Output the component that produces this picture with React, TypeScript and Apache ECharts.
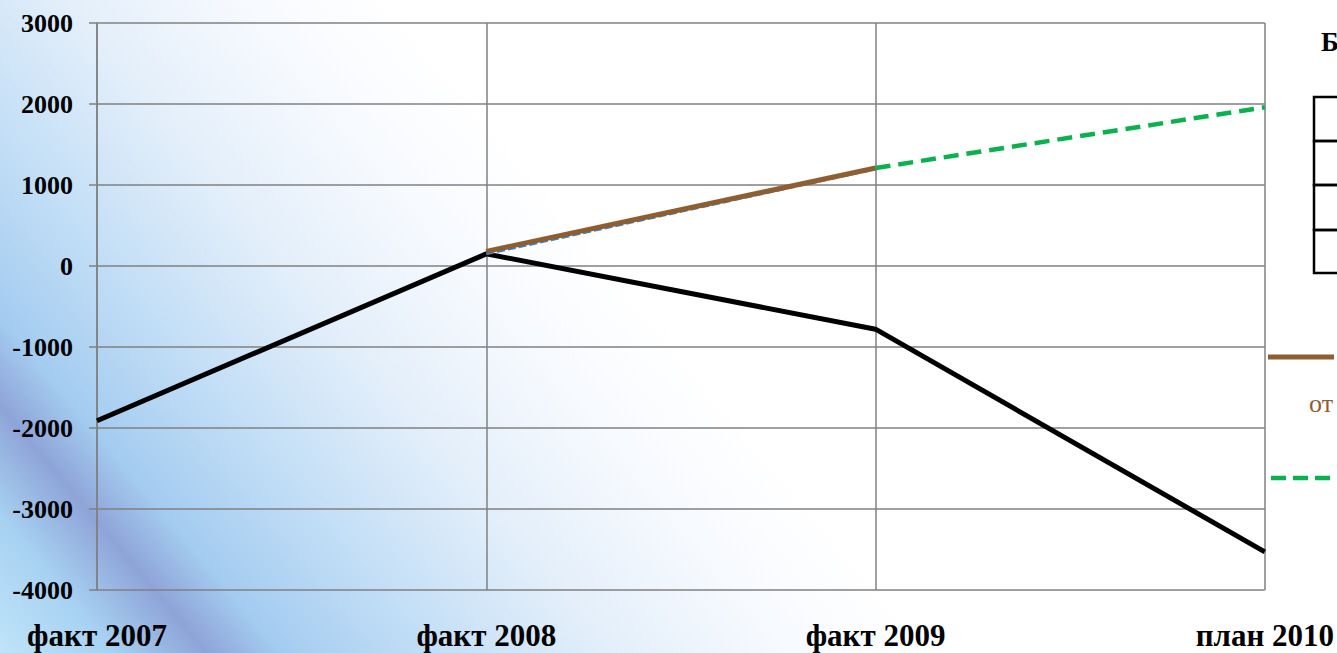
import React, { useEffect, useRef } from "react";
import * as echarts from "echarts";

const categories = ["факт 2007", "факт 2008", "факт 2009", "план 2010"];
const blackSeries = [-1910, 150, -780, -3530];
const brownSeries = [null, 180, 1210, null];
const blueSeries = [null, 150, 1200, null];
const greenSeries = [null, null, 1210, 1960];
const yTicks = { min: -4000, max: 3000, interval: 1000 };

const FONT = "'Liberation Serif', 'Times New Roman', serif";

export default function App() {
  const ref = useRef<HTMLDivElement>(null);
  useEffect(() => {
    if (!ref.current) return;
    const chart = echarts.init(ref.current, null, { renderer: "svg" });
    const tableRows = [97, 141, 185, 230];
    chart.setOption({
      animation: false,
      grid: { left: 97, right: 72, top: 23, bottom: 63, containLabel: false },
      xAxis: {
        type: "category",
        data: categories,
        boundaryGap: false,
        axisLine: { show: false },
        axisTick: { show: false },
        splitLine: { show: true, lineStyle: { color: "#808080", width: 1.5 } },
        axisLabel: {
          margin: 30,
          color: "#000",
          fontFamily: FONT,
          fontWeight: "bold",
          fontSize: 31,
        },
      },
      yAxis: {
        type: "value",
        min: yTicks.min,
        max: yTicks.max,
        interval: yTicks.interval,
        axisLine: { show: true, lineStyle: { color: "#808080", width: 1.5 } },
        axisTick: { show: true, length: 8, lineStyle: { color: "#808080", width: 1.5 } },
        splitLine: { show: true, lineStyle: { color: "#808080", width: 1.5 } },
        axisLabel: {
          margin: 24,
          color: "#000",
          fontFamily: FONT,
          fontWeight: "bold",
          fontSize: 26,
          formatter: (v: number) => String(v),
        },
      },
      series: [
        {
          type: "line",
          data: blackSeries,
          symbol: "none",
          lineStyle: { color: "#000", width: 5 },
          z: 2,
        },
        {
          type: "line",
          data: blueSeries,
          symbol: "none",
          lineStyle: { color: "#2f86d6", width: 3, type: [8, 3] },
          z: 3,
        },
        {
          type: "line",
          data: brownSeries,
          symbol: "none",
          lineStyle: { color: "#8f5e30", width: 5 },
          z: 4,
        },
        {
          type: "line",
          data: greenSeries,
          symbol: "none",
          lineStyle: { color: "#0bb04f", width: 4.5, type: [15, 8] },
          z: 4,
        },
      ],
      graphic: [
        {
          type: "text",
          left: 1321,
          top: 28,
          style: { text: "Б", font: `bold 27px ${FONT}`, fill: "#000" },
        },
        ...tableRows.map((y, i) => ({
          type: "rect",
          shape: { x: 1314, y, width: 40, height: (i < 3 ? tableRows[i + 1] : 273) - y },
          style: { fill: "none", stroke: "#000", lineWidth: 2.5 },
        })),
        {
          type: "line",
          shape: { x1: 1268, y1: 357, x2: 1334, y2: 357 },
          style: { stroke: "#8f5e30", lineWidth: 5 },
        },
        {
          type: "text",
          left: 1309,
          top: 390,
          style: { text: "от", font: `26px ${FONT}`, fill: "#8f5e30" },
        },
        {
          type: "line",
          shape: { x1: 1271, y1: 478, x2: 1345, y2: 478 },
          style: { stroke: "#0bb04f", lineWidth: 4.5, lineDash: [15, 7] },
        },
      ],
    });
    return () => chart.dispose();
  }, []);
  return (
    <div
      style={{
        position: "absolute",
        left: 0,
        top: 0,
        width: 1337,
        height: 653,
        overflow: "hidden",
        background:
          "linear-gradient(50deg, #bfe4fa 0%, #a8d2f2 6%, #8ea4d8 11%, #a4ccf0 15%, #c2def6 23%, #e2eefa 32%, #f7fafe 42%, #ffffff 50%)",
      }}
    >
      <div ref={ref} style={{ width: 1337, height: 653 }} />
    </div>
  );
}
